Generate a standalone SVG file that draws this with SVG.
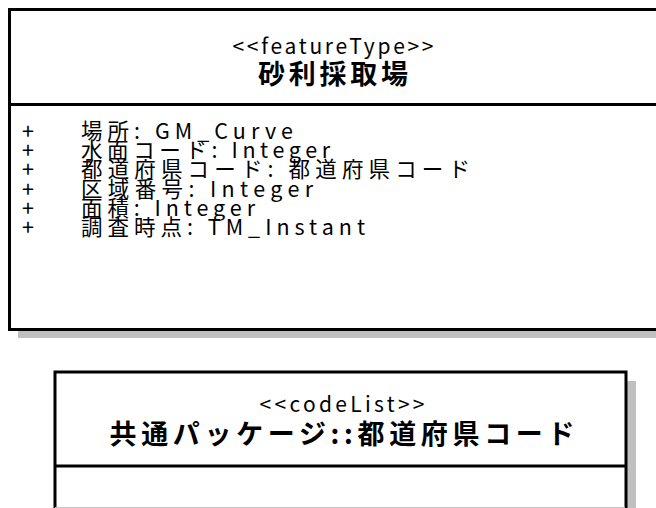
<svg xmlns="http://www.w3.org/2000/svg" width="656" height="508" viewBox="0 0 656 508">
<style>
.box{fill:#fff;stroke:#000;stroke-width:3}
.shadow{fill:#c0c0c0}
.line{stroke:#000;stroke-width:3}
text{font-family:"Noto Sans CJK JP","Noto Sans",sans-serif;fill:#000}
.st{font-size:21px}
.nm{font-size:27px;font-weight:bold}
.at{font-size:21.5px}
</style>
<g id="node-sari">
<rect class="shadow" x="18" y="19" width="660" height="319"/>
<rect class="box" x="9.5" y="9.5" width="660" height="320"/>
<line class="line" x1="9.5" y1="104.5" x2="670" y2="104.5"/>
<text class="st" x="333" y="54" text-anchor="middle" textLength="201" lengthAdjust="spacing">&lt;&lt;featureType&gt;&gt;</text>
<text class="nm" x="333" y="84" text-anchor="middle" textLength="150" lengthAdjust="spacing">砂利採取場</text>
<text class="at" x="22" y="139">+</text>
<text class="at" x="81" y="139" textLength="212" lengthAdjust="spacing">場所: GM_Curve</text>
<text class="at" x="22" y="158">+</text>
<text class="at" x="81" y="158" textLength="249" lengthAdjust="spacing">水面コード: Integer</text>
<text class="at" x="22" y="177">+</text>
<text class="at" x="81" y="177" textLength="389" lengthAdjust="spacing">都道府県コード: 都道府県コード</text>
<text class="at" x="22" y="197">+</text>
<text class="at" x="81" y="197" textLength="232" lengthAdjust="spacing">区域番号: Integer</text>
<text class="at" x="22" y="216">+</text>
<text class="at" x="81" y="216" textLength="174" lengthAdjust="spacing">面積: Integer</text>
<text class="at" x="22" y="235">+</text>
<text class="at" x="81" y="235" textLength="284" lengthAdjust="spacing">調査時点: TM_Instant</text>
</g>
<g id="node-todofuken">
<rect class="shadow" x="64" y="381" width="572" height="140"/>
<rect class="box" x="55" y="372" width="571" height="140"/>
<line class="line" x1="55" y1="466" x2="626" y2="466"/>
<line x1="55" y1="507.5" x2="625" y2="507.5" stroke="#c8c8c8" stroke-width="1"/>
<text class="st" x="342" y="412" text-anchor="middle" textLength="165" lengthAdjust="spacing">&lt;&lt;codeList&gt;&gt;</text>
<text class="nm" x="342" y="444" text-anchor="middle" textLength="465" lengthAdjust="spacing">共通パッケージ::都道府県コード</text>
</g>
<g id="connectors"/>
</svg>
